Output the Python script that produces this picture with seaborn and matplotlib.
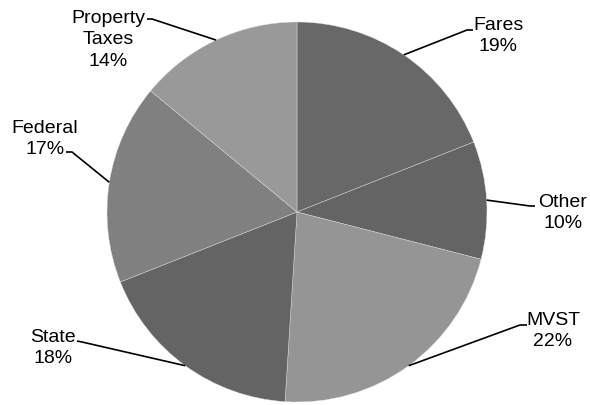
import numpy as np
import matplotlib.pyplot as plt
import seaborn as sns

sns.set_style("white")
plt.rcParams['font.family'] = ['Liberation Sans', 'DejaVu Sans']

# data
labels = ['Fares', 'Other', 'MVST', 'State', 'Federal', 'Property\nTaxes']
shares = [19, 10, 22, 18, 17, 14]
colors = ['#686868', '#646464', '#959595', '#646464', '#808080', '#999999']

# label layout in pixel coords (x, y from top): elbow, line end, text centre
elbows = [(467, 31), (530, 207), (520, 326), (82, 343), (72, 153), (152, 20)]
ends = [(473, 31), (535, 207), (527, 326), (77, 342), (66, 153), (147, 20)]
text_pos = [(498, 36), (563, 213), (553, 331), (53, 348), (45, 139), (108, 40)]

W, H = 590, 406
cx, cy, R = 297, 213, 190


def px(p):
    return ((p[0] - cx) / R, (cy - p[1]) / R)


fig = plt.figure(figsize=(W / 100, H / 100), dpi=100)
ax = fig.add_axes([0, 0, 1, 1])
wedges, _ = ax.pie(shares, colors=colors, startangle=90, counterclock=False,
                   wedgeprops={'edgecolor': '#dddddd', 'linewidth': 0.3})
ax.set_xlim(-cx / R, (W - cx) / R)
ax.set_ylim(-(H - cy) / R, cy / R)
ax.set_aspect('equal')
ax.axis('off')

for w, lab, s, el, en, tp in zip(wedges, labels, shares, elbows, ends, text_pos):
    ang = np.deg2rad((w.theta1 + w.theta2) / 2)
    edge = (np.cos(ang), np.sin(ang))
    e1 = px(el)
    e2 = px(en)
    ax.plot([edge[0], e1[0], e2[0]], [edge[1], e1[1], e2[1]],
            color='black', lw=1.2, solid_capstyle='butt')
    t = px(tp)
    ax.text(t[0], t[1], f'{lab}\n{s}%', ha='center', va='center',
            fontsize=14, linespacing=1.38, color='black')

fig.savefig('out.png', dpi=100)
